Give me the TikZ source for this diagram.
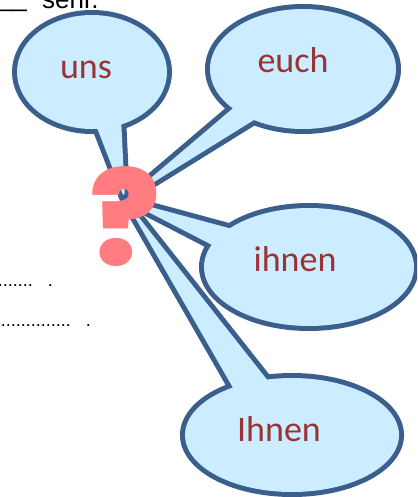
\documentclass[tikz,border=0pt]{standalone}
\usepackage{fontspec}
\setmainfont{Carlito}
\newfontfamily\qfont{Poppins Black}
\newfontfamily\tfont{Liberation Sans}
\definecolor{bubfill}{RGB}{204,236,255}
\definecolor{bubline}{RGB}{58,95,140}
\definecolor{wordcol}{RGB}{152,52,52}
\definecolor{qcol}{RGB}{255,124,128}
\tikzset{
  bubedge/.style={draw=bubline, fill=bubline, line width=10pt, line join=round},
  bubin/.style={fill=bubfill},
  word/.style={font=\fontsize{36}{40}\selectfont, text=wordcol, inner sep=0pt, anchor=base},
  plain/.style={font=\tfont\fontsize{26}{28}\selectfont, inner sep=0pt},
  dotrow/.style={font=\tfont\fontsize{18}{20}\selectfont, inner sep=0pt, anchor=base east},
}
\newcommand\mybubble[5]{%
  \path[bubedge] #1 ellipse #2;
  \path[bubedge] #3 -- #5 -- #4 -- cycle;
  \path[bubin] #1 ellipse #2;
  \path[bubin] #3 -- #5 -- #4 -- cycle;
}
\begin{document}
\begin{tikzpicture}[x=1pt,y=-1pt]
\useasboundingbox (0,0) rectangle (417,497);
\clip (0,0) rectangle (417,497);

% partial worksheet text
\node[plain, anchor=base east] (blank) at (27,7) {\_\_};
\node[plain, anchor=base west] (top) at (42,9) {sehr.};
\node[dotrow] (dots1) at (53,286) {........\hspace{15pt}.};
\node[dotrow] (dots2) at (91,326) {...............\hspace{15pt}.};

\coordinate (tip) at (125,200);

\mybubble{(92,72)}{(75 and 57)}{(94,120)}{(121,117)}{(tip)}
\mybubble{(303,69)}{(93 and 60)}{(238,104)}{(262,115)}{(tip)}
\mybubble{(309,267)}{(105 and 59)}{(236,230)}{(216,247)}{(tip)}
\mybubble{(292,435)}{(107 and 57)}{(236,393)}{(272,386)}{(tip)}

\node[word] (uns) at (86,79) {uns};
\node[word] (euch) at (293,73) {euch};
\node[word] (ihnen) at (295,271) {ihnen};
\node[word] (Ihnen) at (279,441) {Ihnen};

\node[font=\qfont\fontsize{128}{130}\selectfont, text=qcol, inner sep=0pt, anchor=base] (q) at (125,265) {?};
\end{tikzpicture}
\end{document}
